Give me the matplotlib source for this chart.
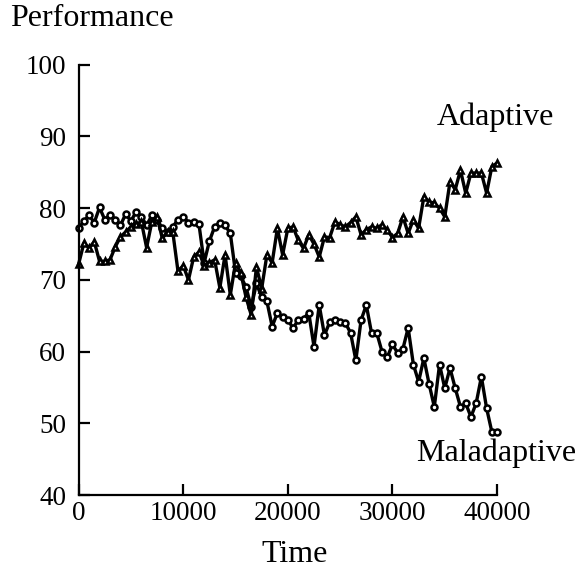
import numpy as np
import matplotlib.pyplot as plt

# time steps (every 500)
time = np.arange(0, 40001, 500)

adaptive = [72.2, 75.1, 74.5, 75.3, 72.6, 72.6, 72.8, 74.6, 76.0, 76.7,
            77.4, 77.8, 78.1, 74.5, 78.1, 78.8, 75.8, 76.7, 76.7, 71.2,
            72.0, 70.0, 73.2, 73.9, 72.0, 72.4, 72.8, 68.9, 73.5, 67.9,
            72.4, 71.0, 67.6, 65.1, 71.8, 68.8, 73.5, 72.4, 77.2, 73.5,
            77.2, 77.4, 75.5, 74.4, 76.3, 75.0, 73.2, 76.0, 75.9, 78.1,
            77.7, 77.4, 78.0, 78.8, 76.3, 77.0, 77.4, 77.2, 77.7, 77.0,
            75.9, 76.5, 78.8, 76.5, 78.4, 77.2, 81.6, 80.9, 80.7, 80.0,
            78.8, 83.7, 82.6, 85.3, 82.1, 84.9, 84.9, 84.9, 82.1, 85.8,
            86.3]

maladaptive = [77.2, 78.2, 79.0, 78.0, 80.1, 78.4, 79.1, 78.4, 77.6, 79.2,
               78.2, 79.5, 78.8, 77.6, 79.0, 78.4, 77.2, 76.7, 77.4, 78.4,
               78.8, 78.0, 78.1, 77.8, 72.4, 75.4, 77.4, 78.0, 77.6, 76.5,
               71.0, 70.5, 69.0, 66.2, 69.5, 67.6, 67.0, 63.5, 65.4, 64.8,
               64.4, 63.3, 64.4, 64.6, 65.4, 60.7, 66.5, 62.3, 64.1, 64.4,
               64.2, 64.0, 62.6, 58.8, 64.4, 66.5, 62.6, 62.6, 60.0, 59.2,
               61.0, 59.8, 60.4, 63.3, 58.2, 55.8, 59.1, 55.5, 52.3, 58.2,
               54.9, 57.7, 54.9, 52.3, 52.8, 50.9, 52.8, 56.5, 52.1, 48.8,
               48.8]

xticks = [0, 10000, 20000, 30000, 40000]
yticks = [40, 50, 60, 70, 80, 90, 100]

plt.rcParams['font.family'] = ['Liberation Serif', 'DejaVu Serif']

fig = plt.figure(figsize=(5.78, 5.73), dpi=100)
ax = fig.add_axes([0.136, 0.136, 0.724, 0.751])

ax.plot(time, maladaptive, color='black', lw=2.4, marker='o', ms=4.3,
        mfc='white', mec='black', mew=1.8, clip_on=False)
ax.plot(time, adaptive, color='black', lw=2.4, marker='^', ms=4.8,
        mfc='white', mec='black', mew=1.8, clip_on=False)

ax.set_xlim(0, 40000)
ax.set_ylim(40, 100)
ax.set_xticks(xticks)
ax.set_yticks(yticks)
ax.tick_params(direction='in', length=8, width=1.6, labelsize=19.5)
ax.tick_params(axis='y', pad=9)
ax.tick_params(axis='x', pad=4)

for s in ['top', 'right']:
    ax.spines[s].set_visible(False)
for s in ['left', 'bottom']:
    ax.spines[s].set_linewidth(1.6)

ax.text(39850, 92.7, 'Adaptive', ha='center', va='center', fontsize=23)
ax.text(39940, 45.9, 'Maladaptive', ha='center', va='center', fontsize=23)

fig.text(10 / 578, 1 - 18 / 573, 'Performance', ha='left', va='center', fontsize=23)
fig.text(295 / 578, 1 - 555 / 573, 'Time', ha='center', va='center', fontsize=23)

plt.savefig('out.png', dpi=100)
